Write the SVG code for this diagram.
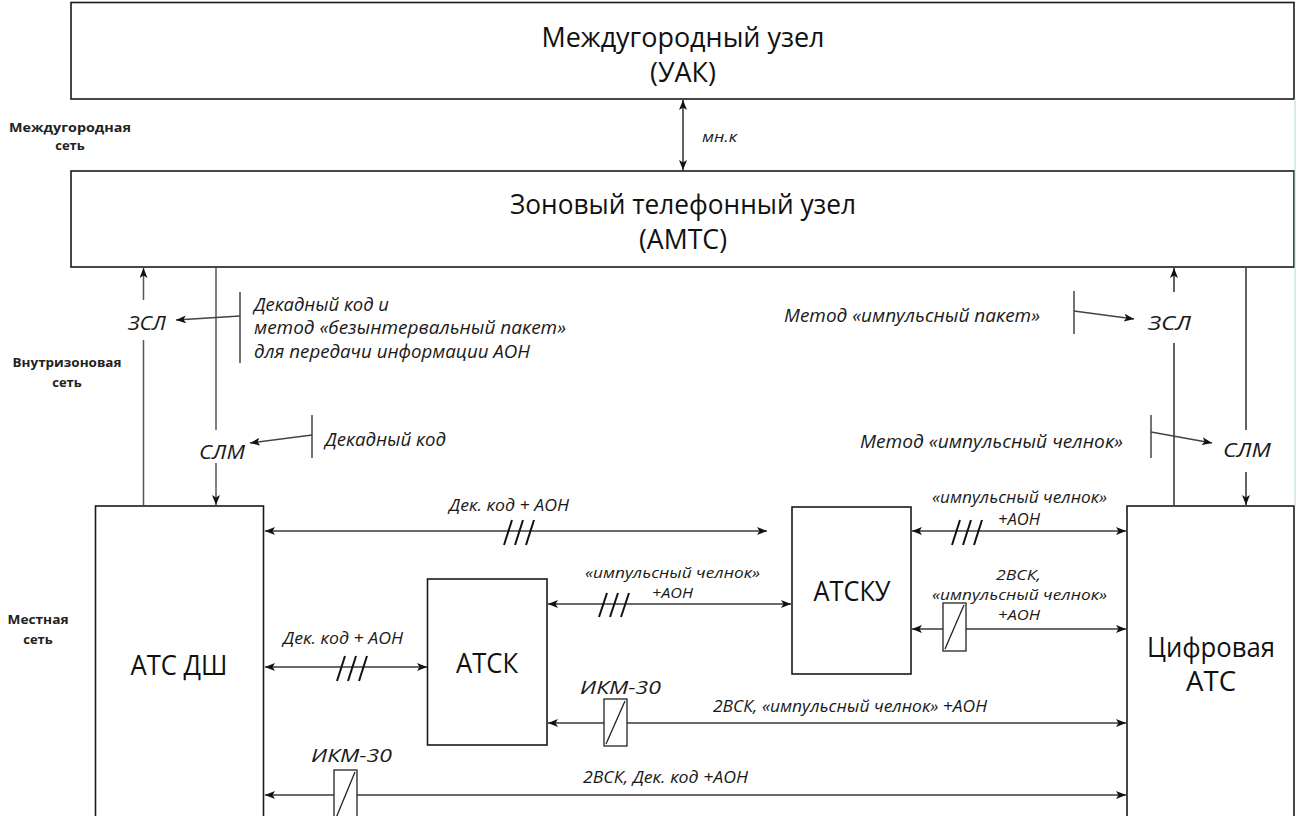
<svg xmlns="http://www.w3.org/2000/svg" width="1312" height="816" viewBox="0 0 1312 816">
  <style>
    .box { fill: #fff; stroke: #1a1a1a; stroke-width: 1.6; }
    .title { font-family: "Open Sans", "Noto Sans", sans-serif; fill: #111; }
    .side { font-family: "Open Sans", "Noto Sans", sans-serif; font-weight: bold; font-size: 13px; fill: #222; text-anchor: middle; }
    .lbl { font-family: "Open Sans", "Noto Sans", sans-serif; font-style: italic; fill: #1a1a1a; }
    .conn { fill: none; stroke: #3a3a3a; stroke-width: 1.6; }
    .vline { fill: none; stroke: #555; stroke-width: 1.5; }
    .brk { fill: none; stroke: #444; stroke-width: 1.5; }
    .slash { stroke: #111; stroke-width: 2; }
    .ikm { fill: #fff; stroke: #222; stroke-width: 1.3; }
  </style>
  <defs>
    <marker id="ah" viewBox="0 0 10 8" refX="10" refY="4" markerWidth="10" markerHeight="8" orient="auto-start-reverse" markerUnits="userSpaceOnUse">
      <path d="M0,0 L10,4 L0,8 L2.5,4 z" fill="#111"/>
    </marker>
  </defs>

  <rect width="1312" height="816" fill="#fff"/>

  <!-- network level captions -->
  <g id="levels">
    <text class="side" x="70" y="132" textLength="122" lengthAdjust="spacingAndGlyphs">Междугородная</text>
    <text class="side" x="70" y="150">сеть</text>
    <text class="side" x="67" y="367" textLength="109" lengthAdjust="spacingAndGlyphs">Внутризоновая</text>
    <text class="side" x="67" y="387">сеть</text>
    <text class="side" x="38" y="624" textLength="61" lengthAdjust="spacingAndGlyphs">Местная</text>
    <text class="side" x="38" y="644">сеть</text>
  </g>

  <!-- nodes -->
  <g id="uak">
    <rect class="box" x="71" y="2.5" width="1223" height="96.5"/>
    <text class="title" x="683" y="47" font-size="27" text-anchor="middle" textLength="283" lengthAdjust="spacingAndGlyphs">Междугородный узел</text>
    <text class="title" x="683" y="82" font-size="27" text-anchor="middle" textLength="66" lengthAdjust="spacingAndGlyphs">(УАК)</text>
  </g>
  <g id="amts">
    <rect class="box" x="71" y="171" width="1223" height="96"/>
    <text class="title" x="683" y="214" font-size="27" text-anchor="middle" textLength="346" lengthAdjust="spacingAndGlyphs">Зоновый телефонный узел</text>
    <text class="title" x="683" y="249" font-size="27" text-anchor="middle" textLength="88" lengthAdjust="spacingAndGlyphs">(АМТС)</text>
  </g>
  <g id="ats-dsh">
    <rect class="box" x="95.5" y="506" width="168" height="330"/>
    <text class="title" x="179" y="675" font-size="27" text-anchor="middle" textLength="97" lengthAdjust="spacingAndGlyphs">АТС ДШ</text>
  </g>
  <g id="atsk">
    <rect class="box" x="427.5" y="579" width="119.5" height="166"/>
    <text class="title" x="487" y="673" font-size="27" text-anchor="middle" textLength="62" lengthAdjust="spacingAndGlyphs">АТСК</text>
  </g>
  <g id="atsku">
    <rect class="box" x="792" y="507" width="119" height="167"/>
    <text class="title" x="852" y="601" font-size="27" text-anchor="middle" textLength="77" lengthAdjust="spacingAndGlyphs">АТСКУ</text>
  </g>
  <g id="digital-ats">
    <rect class="box" x="1127" y="506" width="167" height="330"/>
    <text class="title" x="1211" y="657" font-size="27" text-anchor="middle" textLength="128" lengthAdjust="spacingAndGlyphs">Цифровая</text>
    <text class="title" x="1211" y="691" font-size="27" text-anchor="middle" textLength="50" lengthAdjust="spacingAndGlyphs">АТС</text>
  </g>

  <!-- connectors -->
  <g id="connectors">
    <!-- УАК <-> АМТС -->
    <path class="conn" d="M683,100 V170" marker-start="url(#ah)" marker-end="url(#ah)"/>

    <!-- АТС ДШ <-> АМТС -->
    <path class="vline" d="M143.5,505 V340"/>
    <path class="vline" d="M143.5,300 V268" marker-end="url(#ah)"/>
    <path class="vline" d="M216,268 V430"/>
    <path class="vline" d="M216,463 V505" marker-end="url(#ah)"/>

    <!-- Цифровая АТС <-> АМТС -->
    <path class="conn" d="M1174,505 V343"/>
    <path class="conn" d="M1174,292 V268" marker-end="url(#ah)"/>
    <path class="conn" d="M1246,268 V430"/>
    <path class="conn" d="M1246,472 V505" marker-end="url(#ah)"/>
    <path d="M1295,99 V506" stroke="#b5d3d3" stroke-width="1" fill="none"/>

    <!-- signalling callouts -->
    <path class="brk" d="M240,292 V363"/>
    <path class="brk" d="M240,316 L176,320" marker-end="url(#ah)"/>
    <path class="brk" d="M312,415 V458"/>
    <path class="brk" d="M312,435 L250,443" marker-end="url(#ah)"/>
    <path class="brk" d="M1074,291 V334"/>
    <path class="brk" d="M1074,311 L1134,319" marker-end="url(#ah)"/>
    <path class="brk" d="M1151,415 V458"/>
    <path class="brk" d="M1151,432 L1212,443" marker-end="url(#ah)"/>

    <!-- local trunks -->
    <path class="conn" d="M265,531 H767" marker-start="url(#ah)" marker-end="url(#ah)"/>
    <path class="conn" d="M912,531 H1126" marker-start="url(#ah)" marker-end="url(#ah)"/>
    <path class="conn" d="M548,604 H791" marker-start="url(#ah)" marker-end="url(#ah)"/>
    <path class="conn" d="M912,629 H1126" marker-start="url(#ah)" marker-end="url(#ah)"/>
    <path class="conn" d="M265,667 H427" marker-start="url(#ah)" marker-end="url(#ah)"/>
    <path class="conn" d="M548,723 H1126" marker-start="url(#ah)" marker-end="url(#ah)"/>
    <path class="conn" d="M265,795 H1126" marker-start="url(#ah)" marker-end="url(#ah)"/>

    <!-- three-wire marks -->
    <g class="slash">
      <line x1="504" y1="545" x2="512" y2="520"/>
      <line x1="515" y1="545" x2="523" y2="520"/>
      <line x1="526" y1="545" x2="534" y2="520"/>

      <line x1="952" y1="545" x2="960" y2="520"/>
      <line x1="963" y1="545" x2="971" y2="520"/>
      <line x1="974" y1="545" x2="982" y2="520"/>

      <line x1="599" y1="617" x2="607" y2="593"/>
      <line x1="610" y1="617" x2="618" y2="593"/>
      <line x1="621" y1="617" x2="629" y2="593"/>

      <line x1="337" y1="681" x2="345" y2="656"/>
      <line x1="348" y1="681" x2="356" y2="656"/>
      <line x1="359" y1="681" x2="367" y2="656"/>
    </g>

    <!-- ИКМ-30 equipment -->
    <rect class="ikm" x="943" y="603" width="23" height="48"/>
    <line x1="945" y1="649" x2="964" y2="605" stroke="#222" stroke-width="1.3"/>
    <rect class="ikm" x="604" y="699" width="23" height="47"/>
    <line x1="606" y1="744" x2="625" y2="701" stroke="#222" stroke-width="1.3"/>
    <rect class="ikm" x="334" y="770" width="23" height="50"/>
    <line x1="336" y1="818" x2="355" y2="772" stroke="#222" stroke-width="1.3"/>
  </g>

  <!-- connector labels -->
  <g id="labels">
    <text class="lbl" x="702" y="142" font-size="14" textLength="35" lengthAdjust="spacingAndGlyphs">мн.к</text>

    <text class="lbl" x="128" y="330" font-size="20" textLength="38" lengthAdjust="spacingAndGlyphs">ЗСЛ</text>
    <text class="lbl" x="199" y="459" font-size="20" textLength="46" lengthAdjust="spacingAndGlyphs">СЛМ</text>
    <text class="lbl" x="1148" y="330" font-size="20" textLength="43" lengthAdjust="spacingAndGlyphs">ЗСЛ</text>
    <text class="lbl" x="1223" y="457" font-size="20" textLength="48" lengthAdjust="spacingAndGlyphs">СЛМ</text>

    <text class="lbl" x="254" y="311" font-size="18" textLength="135" lengthAdjust="spacingAndGlyphs">Декадный код и</text>
    <text class="lbl" x="254" y="334" font-size="18" textLength="312" lengthAdjust="spacingAndGlyphs">метод «безынтервальный пакет»</text>
    <text class="lbl" x="254" y="358" font-size="18" textLength="276" lengthAdjust="spacingAndGlyphs">для передачи информации АОН</text>
    <text class="lbl" x="325" y="446" font-size="18" textLength="121" lengthAdjust="spacingAndGlyphs">Декадный код</text>
    <text class="lbl" x="784" y="322" font-size="18" textLength="256" lengthAdjust="spacingAndGlyphs">Метод «импульсный пакет»</text>
    <text class="lbl" x="860" y="448" font-size="18" textLength="263" lengthAdjust="spacingAndGlyphs">Метод «импульсный челнок»</text>

    <text class="lbl" x="449" y="511" font-size="15.5" textLength="120" lengthAdjust="spacingAndGlyphs">Дек. код + АОН</text>
    <text class="lbl" x="932" y="503" font-size="15.5" textLength="175" lengthAdjust="spacingAndGlyphs">«импульсный челнок»</text>
    <text class="lbl" x="998" y="525" font-size="15.5" textLength="42" lengthAdjust="spacingAndGlyphs">+АОН</text>
    <text class="lbl" x="585" y="578" font-size="15" textLength="175" lengthAdjust="spacingAndGlyphs">«импульсный челнок»</text>
    <text class="lbl" x="652" y="598" font-size="15" textLength="41" lengthAdjust="spacingAndGlyphs">+АОН</text>
    <text class="lbl" x="996" y="580" font-size="15" textLength="45" lengthAdjust="spacingAndGlyphs">2ВСК,</text>
    <text class="lbl" x="932" y="600" font-size="15" textLength="175" lengthAdjust="spacingAndGlyphs">«импульсный челнок»</text>
    <text class="lbl" x="998" y="620" font-size="15" textLength="42" lengthAdjust="spacingAndGlyphs">+АОН</text>
    <text class="lbl" x="283" y="644" font-size="15.5" textLength="120" lengthAdjust="spacingAndGlyphs">Дек. код + АОН</text>
    <text class="lbl" x="580" y="694" font-size="19" textLength="81" lengthAdjust="spacingAndGlyphs">ИКМ-30</text>
    <text class="lbl" x="713" y="712" font-size="15.5" textLength="274" lengthAdjust="spacingAndGlyphs">2ВСК, «импульсный челнок» +АОН</text>
    <text class="lbl" x="311" y="762" font-size="19" textLength="81" lengthAdjust="spacingAndGlyphs">ИКМ-30</text>
    <text class="lbl" x="583" y="783" font-size="15.5" textLength="165" lengthAdjust="spacingAndGlyphs">2ВСК, Дек. код +АОН</text>
  </g>
</svg>
